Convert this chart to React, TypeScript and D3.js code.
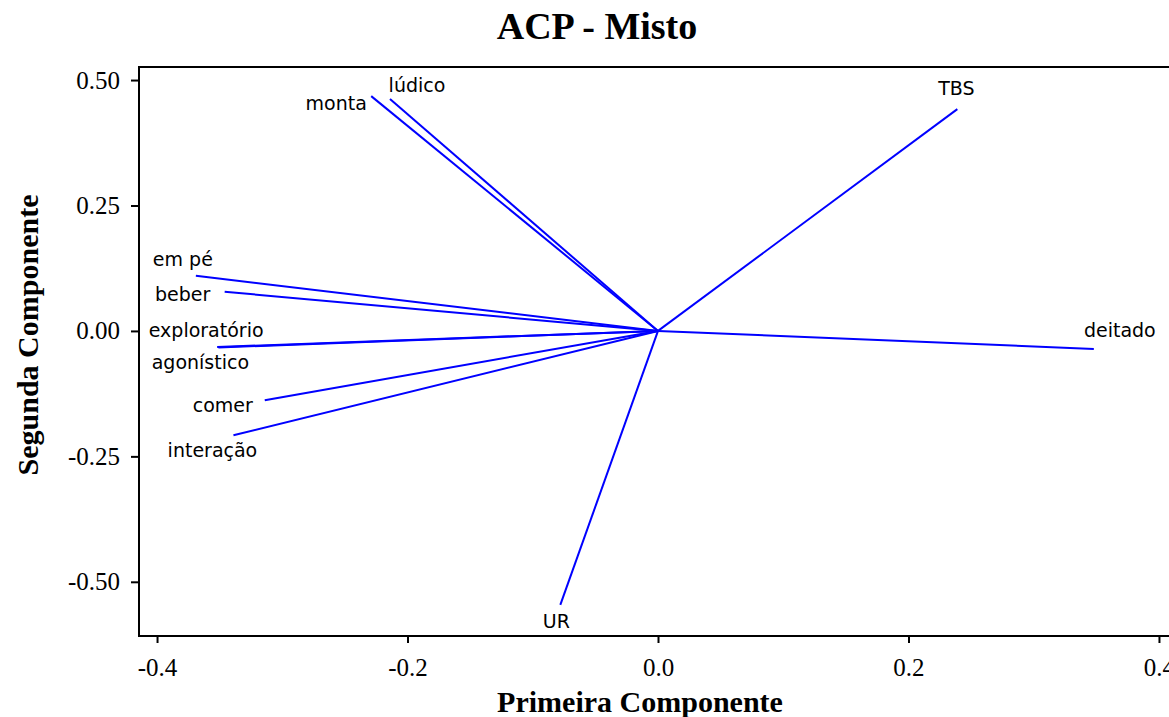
import React, { useEffect, useRef } from 'react';
import * as d3 from 'd3';

// loadings (PC1, PC2)
const variables = ['monta', 'lúdico', 'em pé', 'beber', 'exploratório', 'agonístico', 'comer', 'interação', 'TBS', 'deitado', 'UR'];
const pc1 = [-0.229, -0.214, -0.369, -0.346, -0.352, -0.351, -0.314, -0.339, 0.239, 0.348, -0.078];
const pc2 = [0.468, 0.462, 0.110, 0.078, -0.032, -0.033, -0.138, -0.208, 0.442, -0.036, -0.546];

const xTicks = [-0.4, -0.2, 0.0, 0.2, 0.4];
const yTicks = [-0.5, -0.25, 0.0, 0.25, 0.5];

// where each name sits relative to the end of its vector (px)
const labelOffset: Record<string, [number, number]> = {
  'monta': [-35, 14],
  'lúdico': [27, -7],
  'em pé': [-13, -10],
  'beber': [-42, 9],
  'exploratório': [-11, -10],
  'agonístico': [-18, 22],
  'comer': [-42, 12],
  'interação': [-21, 22],
  'TBS': [-1, -14],
  'deitado': [26, -12],
  'UR': [-4, 23],
};

export default function App() {
  const xAxisRef = useRef<SVGGElement>(null);
  const yAxisRef = useRef<SVGGElement>(null);

  const width = 1169, height = 717;
  const left = 139, top = 67, bottom = 636, right = 1177;

  const x = d3.scaleLinear().domain([-0.4144, 0.4144]).range([left, right]);
  const y = d3.scaleLinear().domain([-0.608, 0.526]).range([bottom, top]);

  useEffect(() => {
    const gx = d3.select(xAxisRef.current);
    gx.selectAll('*').remove();
    gx.call(d3.axisBottom(x).tickValues(xTicks).tickSize(7).tickSizeOuter(0).tickPadding(15)
      .tickFormat(d => (+d).toFixed(1)));
    gx.select('.domain').remove();
    gx.selectAll('line').attr('stroke', '#000').attr('stroke-width', 2);
    gx.selectAll('text').attr('font-family', '"Liberation Serif", serif').attr('font-size', 25).attr('fill', '#000');

    const gy = d3.select(yAxisRef.current);
    gy.selectAll('*').remove();
    gy.call(d3.axisLeft(y).tickValues(yTicks).tickSize(8).tickSizeOuter(0).tickPadding(11)
      .tickFormat(d => (+d).toFixed(2)));
    gy.select('.domain').remove();
    gy.selectAll('line').attr('stroke', '#000').attr('stroke-width', 2);
    gy.selectAll('text').attr('font-family', '"Liberation Serif", serif').attr('font-size', 25).attr('fill', '#000');
  }, []);

  return (
    <svg width={width} height={height} style={{ position: 'absolute', left: 0, top: 0, background: '#fff' }}>
      <text x={597} y={39} textAnchor="middle" fontFamily='"Liberation Serif", serif' fontWeight="bold" fontSize={38}>ACP - Misto</text>

      {/* vectors */}
      {variables.map((v, i) => (
        <line key={v} x1={x(0)} y1={y(0)} x2={x(pc1[i])} y2={y(pc2[i])} stroke="#0000ff" strokeWidth={2} />
      ))}
      {variables.map((v, i) => (
        <text key={v + '-label'} x={x(pc1[i]) + labelOffset[v][0]} y={y(pc2[i]) + labelOffset[v][1]}
          textAnchor="middle" fontFamily='"DejaVu Sans", sans-serif' fontSize={19} fill="#000">{v}</text>
      ))}

      {/* frame */}
      <line x1={left} y1={top} x2={right} y2={top} stroke="#000" strokeWidth={2} />
      <line x1={left} y1={top - 1} x2={left} y2={bottom + 1} stroke="#000" strokeWidth={2} />
      <line x1={left} y1={bottom} x2={right} y2={bottom} stroke="#000" strokeWidth={2} />

      <g ref={xAxisRef} transform={`translate(0,${bottom})`} />
      <g ref={yAxisRef} transform={`translate(${left},0)`} />

      <text x={640} y={712} textAnchor="middle" fontFamily='"Liberation Serif", serif' fontWeight="bold" fontSize={30}>Primeira Componente</text>
      <text transform={`translate(38,335) rotate(-90)`} textAnchor="middle" fontFamily='"Liberation Serif", serif' fontWeight="bold" fontSize={30}>Segunda Componente</text>
    </svg>
  );
}
